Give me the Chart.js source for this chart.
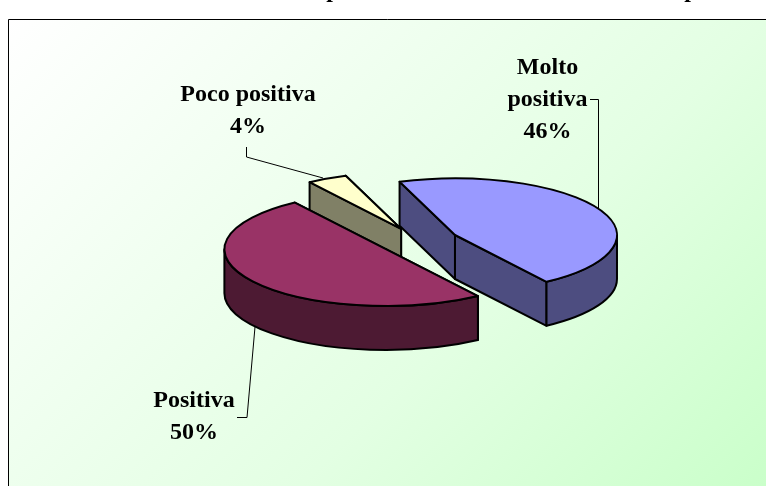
<!DOCTYPE html>
<html><head><meta charset="utf-8">
<script src="https://cdn.jsdelivr.net/npm/chart.js@4"></script>
<style>html,body{margin:0;padding:0;background:#fff}canvas{display:block}</style>
</head><body><canvas id="c" width="766" height="486"></canvas>
<script>
const categories = ["Molto positiva", "Positiva", "Poco positiva"];
const shares = [46, 50, 4];
const topColors = ["#9999FF", "#993366", "#FFFFCC"];
const wallColors = ["#4D4D80", "#4D1A33", "#808066"];
const labelLines = [["Molto", "positiva"], ["Positiva"], ["Poco positiva"]];
const labelAnchors = [[547.5, 74], [194, 407], [248, 101]];
const leaderLines = [
  [[590, 99.5], [598.5, 99.5], [598.5, 208]],
  [[255, 327], [247, 417.5], [237, 417.5]],
  [[323, 178], [246.5, 157], [246.5, 147]]
];
const clippedTitleGlyphs = [[333, "p"], [691, "p"]];
const TILT = 0.35, DEPTH = 44, EXPLODE = 40, RADIUS = 162;
const CX = 419.4, CY = 241.4;
const LINE = "#000", STROKE = 2;

function sliceGeom(arc) {
  const mid = (arc.startAngle + arc.endAngle) / 2;
  return {
    x: CX + Math.cos(mid) * EXPLODE,
    y: CY + Math.sin(mid) * EXPLODE * TILT,
    r: arc.outerRadius, a0: arc.startAngle, a1: arc.endAngle
  };
}
function pt(g, a, dz) {
  return [g.x + Math.cos(a) * g.r, g.y + Math.sin(a) * g.r * TILT + (dz || 0)];
}

class Pie3DController extends Chart.PieController {
  draw() {
    const ctx = this.chart.ctx;
    this._cachedMeta.data.forEach(arc => {
      const mid = (arc.startAngle + arc.endAngle) / 2;
      ctx.save();
      ctx.translate(CX + Math.cos(mid) * EXPLODE, CY + Math.sin(mid) * EXPLODE * TILT);
      ctx.scale(1, TILT);
      ctx.translate(-arc.x, -arc.y);
      arc.draw(ctx, this.chart.chartArea);
      ctx.restore();
    });
  }
}
Pie3DController.id = "pie3d";
Pie3DController.defaults = {};
Chart.register(Pie3DController);

function fillWall(ctx, pts, color) {
  ctx.beginPath();
  pts.forEach((p, i) => i ? ctx.lineTo(p[0], p[1]) : ctx.moveTo(p[0], p[1]));
  ctx.closePath();
  ctx.fillStyle = color; ctx.fill();
  ctx.strokeStyle = LINE; ctx.lineWidth = STROKE; ctx.lineJoin = "round"; ctx.stroke();
}
function radialWall(ctx, g, a, color) {
  const p = pt(g, a);
  fillWall(ctx, [[g.x, g.y], p, [p[0], p[1] + DEPTH], [g.x, g.y + DEPTH]], color);
}
function outerWall(ctx, g, color) {
  const T = Math.PI * 2;
  for (let k = -1; k <= 1; k++) {
    const s = Math.max(g.a0, k * T), e = Math.min(g.a1, k * T + Math.PI);
    if (e <= s) continue;
    ctx.beginPath();
    ctx.ellipse(g.x, g.y, g.r, g.r * TILT, 0, s, e);
    ctx.ellipse(g.x, g.y + DEPTH, g.r, g.r * TILT, 0, e, s, true);
    ctx.closePath();
    ctx.fillStyle = color; ctx.fill();
    ctx.strokeStyle = LINE; ctx.lineWidth = STROKE; ctx.lineJoin = "round"; ctx.stroke();
  }
}

const pie3d = {
  id: "pie3dParts",
  beforeDraw(chart) {
    const c = chart.ctx;
    c.save();
    c.fillStyle = "#fff"; c.fillRect(0, 0, 766, 486);
    const g = c.createLinearGradient(8, 19, 620.5, 631.5);
    g.addColorStop(0, "#FFFFFF");
    g.addColorStop(0.619, "#E3FFE3");
    g.addColorStop(1, "#CAFFCA");
    c.fillStyle = g; c.fillRect(8, 19, 758, 467);
    c.strokeStyle = "#000"; c.lineWidth = 1;
    c.beginPath(); c.moveTo(8.5, 486); c.lineTo(8.5, 19.5); c.lineTo(766, 19.5); c.stroke();
    c.fillStyle = "#000"; c.textAlign = "center"; c.textBaseline = "alphabetic";
    c.font = "bold 24px 'Liberation Serif'";
    clippedTitleGlyphs.forEach(t => c.fillText(t[1], t[0], -3));
    c.restore();
  },
  beforeDatasetsDraw(chart) {
    const c = chart.ctx, arcs = chart.getDatasetMeta(0).data;
    [2, 0, 1].forEach(i => {
      const g = sliceGeom(arcs[i]);
      const walls = [g.a0, g.a1].sort((p, q) => Math.sin(p) - Math.sin(q));
      walls.forEach(a => radialWall(c, g, a, wallColors[i]));
      outerWall(c, g, wallColors[i]);
    });
  },
  afterDatasetsDraw(chart) {
    const c = chart.ctx, arcs = chart.getDatasetMeta(0).data;
    c.save();
    arcs.forEach(arc => {
      const g = sliceGeom(arc);
      c.beginPath();
      c.moveTo(g.x, g.y);
      c.ellipse(g.x, g.y, g.r, g.r * TILT, 0, g.a0, g.a1);
      c.closePath();
      c.strokeStyle = LINE; c.lineWidth = STROKE; c.lineJoin = "round"; c.stroke();
    });
    c.strokeStyle = "#000"; c.lineWidth = 1;
    leaderLines.forEach(l => {
      c.beginPath();
      l.forEach((p, i) => i ? c.lineTo(p[0], p[1]) : c.moveTo(p[0], p[1]));
      c.stroke();
    });
    c.fillStyle = "#000"; c.textAlign = "center"; c.textBaseline = "alphabetic";
    c.font = "bold 24px 'Liberation Serif'";
    labelLines.forEach((lines, i) => {
      const a = labelAnchors[i];
      lines.concat(shares[i] + "%").forEach((t, j) => c.fillText(t, a[0], a[1] + j * 32));
    });
    c.restore();
  }
};

new Chart(document.getElementById("c"), {
  type: "pie3d",
  data: { labels: categories, datasets: [{ data: shares, backgroundColor: topColors, borderWidth: 0 }] },
  options: {
    responsive: false, animation: false, rotation: -20, radius: RADIUS,
    layout: { padding: 0 },
    plugins: { legend: { display: false }, tooltip: { enabled: false } }
  },
  plugins: [pie3d]
});
</script></body></html>
